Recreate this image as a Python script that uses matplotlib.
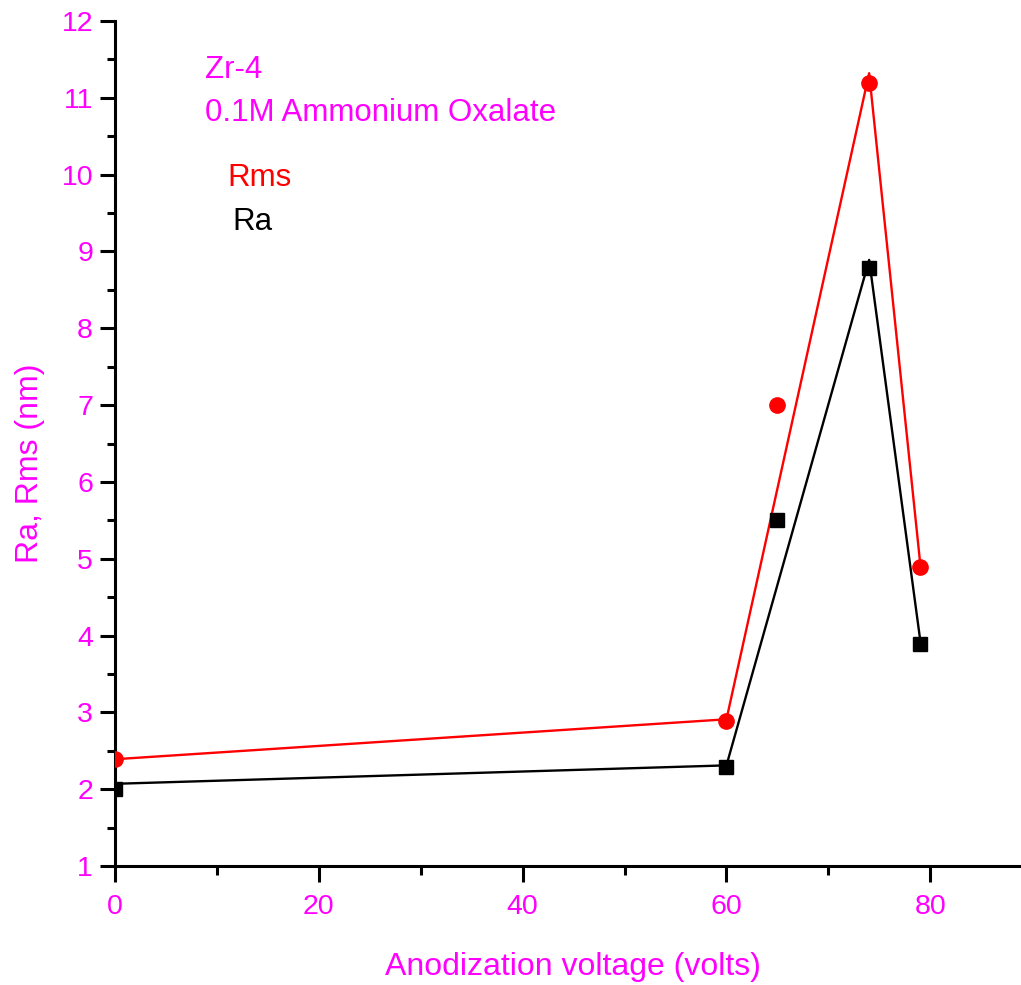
import matplotlib
matplotlib.use("Agg")
import matplotlib.pyplot as plt
from matplotlib.ticker import MultipleLocator

plt.rcParams['font.family'] = ['Liberation Sans', 'DejaVu Sans']

# Connecting lines (as drawn in the figure)
line_x = [0, 60, 74, 79]
rms_line = [2.39, 2.91, 11.32, 4.95]
ra_line = [2.07, 2.31, 8.89, 3.95]

# Measured points (markers)
pts_x = [0, 60, 65, 74, 79]
rms_pts = [2.39, 2.89, 7.0, 11.19, 4.89]
ra_pts = [2.0, 2.29, 5.5, 8.78, 3.89]

x_ticks = [0, 20, 40, 60, 80]
y_ticks = [1, 2, 3, 4, 5, 6, 7, 8, 9, 10, 11, 12]

MAG = '#FF00FF'

fig = plt.figure(figsize=(10.21, 9.85), dpi=100)
ax = fig.add_axes([115/1021, 119/985, 1 - 115/1021, 845/985])

ax.plot(line_x, rms_line, color='#FF0000', lw=1.7, zorder=2)
ax.plot(line_x, ra_line, color='black', lw=1.7, zorder=2)
ax.plot(pts_x, rms_pts, 'o', color='#FF0000', ms=11, mec='#FF0000', ls='none', zorder=3)
ax.plot(pts_x, ra_pts, 's', color='black', ms=10, ls='none', zorder=3)

ax.set_xlim(0, 88.9)
ax.set_ylim(1, 12)
ax.set_xticks(x_ticks)
ax.set_yticks(y_ticks)
ax.xaxis.set_minor_locator(MultipleLocator(10))
ax.yaxis.set_minor_locator(MultipleLocator(0.5))

for s in ['top', 'right']:
    ax.spines[s].set_visible(False)
for s in ['left', 'bottom']:
    ax.spines[s].set_linewidth(2.2)

ax.tick_params(axis='both', which='major', direction='out', width=2.2,
               labelcolor=MAG, labelsize=20.5)
ax.tick_params(axis='x', which='major', length=11.5, pad=9)
ax.tick_params(axis='x', which='minor', direction='out', length=6.5, width=2.2)
ax.tick_params(axis='y', which='major', length=10.8, pad=5)
ax.tick_params(axis='y', which='minor', direction='out', length=5.8, width=2.2)

ax.set_xlabel('Anodization voltage (volts)', color=MAG, fontsize=23)
ax.set_ylabel('Ra, Rms (nm)', color=MAG, fontsize=23)
ax.xaxis.set_label_coords(0.5055, -0.1018)
ax.yaxis.set_label_coords(-0.0773, 0.477)

ax.text(8.8, 11.36, 'Zr-4', color=MAG, fontsize=22.5, va='center', ha='left')
ax.text(8.8, 10.80, '0.1M Ammonium Oxalate', color=MAG, fontsize=22.5, va='center', ha='left')
ax.text(11.0, 9.96, 'Rms', color='#FF0000', fontsize=22.5, va='center', ha='left')
ax.text(11.5, 9.38, 'Ra', color='black', fontsize=22.5, va='center', ha='left')

fig.savefig('out.png', dpi=100)
